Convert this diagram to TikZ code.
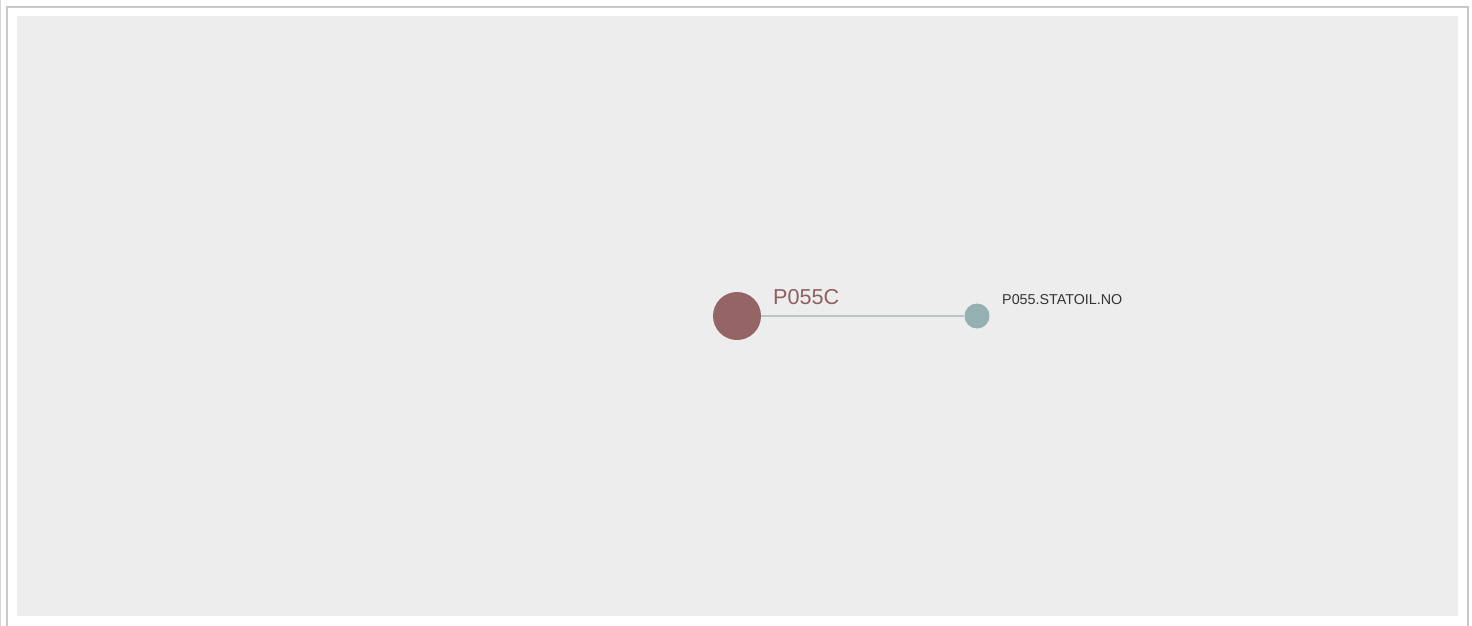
\documentclass[tikz,border=0pt]{standalone}
\usepackage{fontspec}
\setmainfont{Liberation Sans}
\usepackage{xcolor}
\usetikzlibrary{positioning}

\definecolor{panelgray}{HTML}{EDEDED}
\definecolor{framegray}{HTML}{C8C8C8}
\definecolor{hostred}{HTML}{956565}
\definecolor{domainteal}{HTML}{95B0B0}
\definecolor{linkgray}{HTML}{B8C8C6}
\definecolor{labeldark}{HTML}{333333}

\begin{document}
\begin{tikzpicture}[
    x=1pt, y=-1pt,
    hostnode/.style={circle, fill=hostred, minimum size=48pt, inner sep=0pt},
    domainnode/.style={circle, fill=domainteal, minimum size=25pt, inner sep=0pt},
    hostlabel/.style={font=\fontsize{21.6}{24}\selectfont, text=hostred!95!black, inner sep=0pt, anchor=south west},
    domainlabel/.style={font=\fontsize{14.3}{16}\selectfont, text=labeldark, inner sep=0pt, anchor=south west},
    link/.style={draw=linkgray, line width=2pt}
  ]
    \useasboundingbox (0,0) rectangle (1472,626);
    % frame and panel
    \draw[framegray!70, line width=1pt] (0.5,0) -- (0.5,626);
    \draw[framegray, line width=2pt] (7,626) -- (7,7) -- (1468,7) -- (1468,626);
    \fill[panelgray] (17,16) rectangle (1458,616);

    % nodes
    \node[hostnode]   (host)   at (737,316) {};
    \node[domainnode] (domain) at (977,316) {};
    \draw[link] (host) -- (domain);

    \node[hostlabel]   (hostname)   at (773,305) {P055C};
    \node[domainlabel] (domainname) at (1002,304.5) {P055.STATOIL.NO};
\end{tikzpicture}
\end{document}
